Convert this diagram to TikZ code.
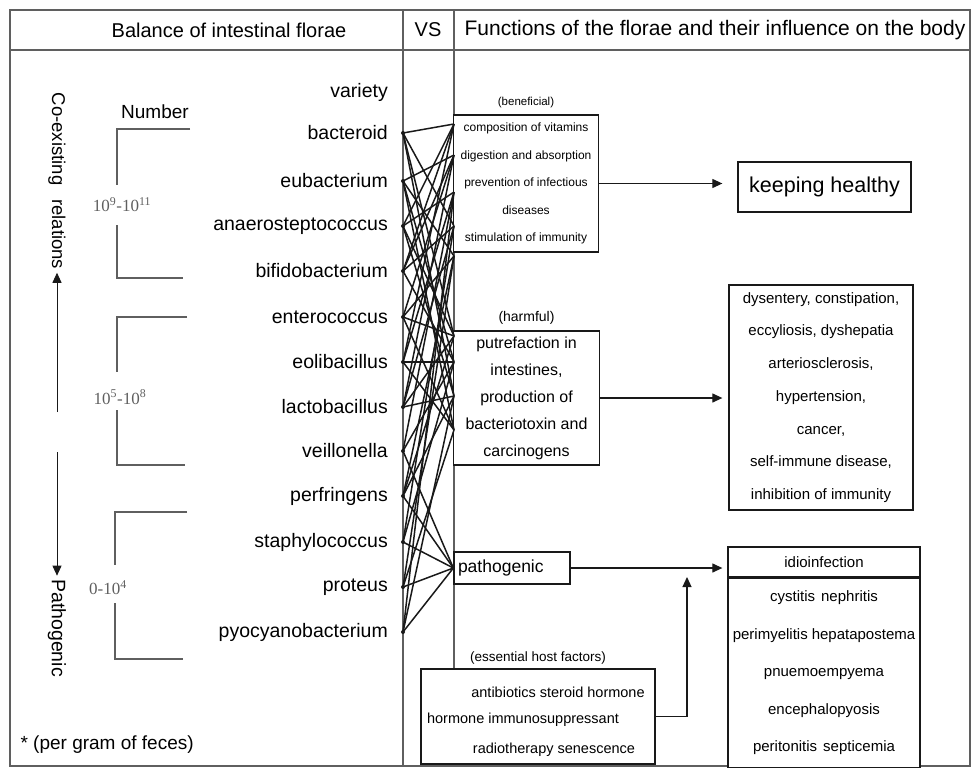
\documentclass[tikz,border=0pt]{standalone}
\usepackage{fontspec}
\setmainfont{Liberation Sans}
\newfontfamily\serifnum{Liberation Serif}
\usepackage{tikz}
\usetikzlibrary{arrows.meta,positioning,calc}
\usepackage{xcolor}
\definecolor{inkgray}{RGB}{25,25,25}
\definecolor{rulegray}{RGB}{95,95,95}

\begin{document}
\begin{tikzpicture}[x=1pt,y=-1pt,
  frameline/.style={draw=rulegray, line width=1.2pt},
  box/.style={draw=inkgray, line width=1.3pt, fill=white, inner sep=0pt},
  link/.style={draw=inkgray, line width=1.5pt},
  flow/.style={draw=inkgray, line width=1.2pt, -{Triangle[length=10pt,width=9pt]}},
  bracket/.style={draw=rulegray, line width=1.2pt},
  bug/.style={anchor=east, inner sep=0pt, font=\fontsize{19.5}{22}\selectfont},
  tag/.style={font=\fontsize{11.5}{13}\selectfont}]
  \useasboundingbox (0,0) rectangle (974,776);

  % frame and header row
  \draw[frameline] (10,10) rectangle (970,766);
  \draw[frameline] (10,50) -- (970,50);
  \draw[frameline] (403,10) -- (403,766);
  \draw[frameline] (454,10) -- (454,766);
  \node[font=\fontsize{20}{22}\selectfont] (hbalance) at (229,30) {Balance of intestinal florae};
  \node[font=\fontsize{20}{22}\selectfont] (hvs) at (428,30) {VS};
  \node[font=\fontsize{21}{22}\selectfont] (hfunc) at (715,30) {Functions of the florae and their influence on the body};

  % left margin: direction of the scale
  \node[rotate=-90, font=\fontsize{18.5}{20}\selectfont] (coexist) at (57,181) {Co-existing\hspace{14pt}relations};
  \node[rotate=-90, font=\fontsize{19.5}{20}\selectfont] (patho) at (57,628) {Pathogenic};
  \coordinate (uptail) at (57,412);
  \coordinate (downtail) at (57,452);
  \draw[flow, line width=0.9pt] (uptail) -- (coexist);
  \draw[flow, line width=0.9pt] (downtail) -- (patho);

  % counts
  \node[font=\fontsize{19}{20}\selectfont] (number) at (155,112) {Number};
  \node[text=rulegray, font=\serifnum\fontsize{17}{18}\selectfont] (nhigh) at (122,205) {10\textsuperscript{9}-10\textsuperscript{11}};
  \node[text=rulegray, font=\serifnum\fontsize{17}{18}\selectfont] (nmid) at (120,397) {10\textsuperscript{5}-10\textsuperscript{8}};
  \node[text=rulegray, font=\serifnum\fontsize{17}{18}\selectfont] (nlow) at (108,588) {0-10\textsuperscript{4}};
  \draw[bracket] (190,129) -| (117,185);
  \draw[bracket] (117,225) |- (183,278);
  \draw[bracket] (187,317) -| (117,372);
  \draw[bracket] (117,410) |- (185,465);
  \draw[bracket] (187,512) -| (115,565);
  \draw[bracket] (115,603) |- (183,659);
  \node[anchor=west, font=\fontsize{19}{20}\selectfont] (perg) at (17,745) {* (per gram of feces)};

  % florae
  \foreach \name/\yy in {variety/92, bacteroid/133, eubacterium/181,
      anaerosteptococcus/226, bifidobacterium/271, enterococcus/317,
      eolibacillus/362, lactobacillus/407, veillonella/451, perfringens/496,
      staphylococcus/542, proteus/587, pyocyanobacterium/632}{
    \node[bug] (\name) at (388,\yy) {\name};
    \coordinate (L-\name) at (403,\yy);
  }

  % function boxes
  \node[box, minimum width=145pt, minimum height=137pt, align=center,
        font=\fontsize{12}{27.5}\selectfont] (benef) at (526,183.5)
        {composition of vitamins\\digestion and absorption\\prevention of infectious\\diseases\\stimulation of immunity};
  \node[tag, above=3pt of benef] (beneftag) {(beneficial)};
  \node[box, minimum width=146pt, minimum height=134pt, align=center,
        font=\fontsize{16}{27}\selectfont] (harm) at (526.5,398)
        {putrefaction in\\intestines,\\production of\\bacteriotoxin and\\carcinogens};
  \node[tag, font=\fontsize{14}{15}\selectfont, above=2pt of harm] (harmtag) {(harmful)};
  \node[box, minimum width=116pt, minimum height=32pt, text width=108pt, align=left,
        font=\fontsize{17.5}{20}\selectfont] (path) at (512,568) {pathogenic};
  \node[box, minimum width=234pt, minimum height=95pt] (ess) at (538,716.5) {};
  \node[tag, font=\fontsize{13.5}{14}\selectfont, above=1pt of ess] (esstag) {(essential host factors)};
  \node[font=\fontsize{14.5}{16}\selectfont] (ess1) at (558,692) {antibiotics steroid hormone};
  \node[font=\fontsize{14.5}{16}\selectfont] (ess2) at (523,720) {hormone immunosuppressant};
  \node[font=\fontsize{14.5}{16}\selectfont] (ess3) at (554,750) {radiotherapy senescence};

  % influence on the body
  \node[box, minimum width=173pt, minimum height=50pt, font=\fontsize{21.5}{22}\selectfont] (healthy) at (824.5,187) {keeping healthy};
  \node[box, minimum width=184pt, minimum height=225pt, align=center,
        font=\fontsize{15}{32.7}\selectfont] (disease) at (821,397.5)
        {dysentery, constipation,\\eccyliosis, dyshepatia\\arteriosclerosis,\\hypertension,\\cancer,\\self-immune disease,\\inhibition of immunity};
  \node[box, minimum width=192pt, minimum height=30pt, font=\fontsize{15}{16}\selectfont] (idio) at (824,562) {idioinfection};
  \node[box, minimum width=192pt, minimum height=189pt, align=center, anchor=north,
        font=\fontsize{15}{37.5}\selectfont] (infect) at (idio.south)
        {cystitis\hspace{6pt}nephritis\\perimyelitis\hspace{4pt}hepatapostema\\pnuemoempyema\\encephalopyosis\\peritonitis\hspace{6pt}septicemia};

  % arrows
  \draw[flow, shorten >=15pt] (benef.east) -- (benef.east -| healthy.west);
  \draw[flow, shorten >=6pt] (harm.east) -- (harm.east -| disease.west);
  \draw[flow, shorten >=5pt] (path.east) -- (path.east -| idio.west);
  \coordinate (feedtip) at (687,577);
  \draw[flow] (ess.east) -| (feedtip);

  % crossing links between florae and functions
  \coordinate (b1) at (454,124);
  \coordinate (b2) at (454,155);
  \coordinate (b3) at (454,192);
  \coordinate (b4) at (454,226);
  \coordinate (b5) at (454,256);
  \coordinate (h1) at (454,336);
  \coordinate (h2) at (454,362);
  \coordinate (h3) at (454,396);
  \coordinate (h4) at (454,430);
  \coordinate (pt) at (path.west);
  \foreach \src/\dst in {bacteroid/b1, bacteroid/b4, bacteroid/h1, bacteroid/h3,
      eubacterium/b2, eubacterium/b5, eubacterium/h2, eubacterium/h4,
      anaerosteptococcus/b1, anaerosteptococcus/b3, anaerosteptococcus/h1, anaerosteptococcus/h3,
      bifidobacterium/b1, bifidobacterium/b2, bifidobacterium/b4, bifidobacterium/h2,
      enterococcus/b2, enterococcus/b5, enterococcus/h1, enterococcus/h4,
      eolibacillus/b1, eolibacillus/b3, eolibacillus/h2, eolibacillus/h4,
      lactobacillus/b2, lactobacillus/b4, lactobacillus/h1, lactobacillus/h3,
      veillonella/b3, veillonella/h2, veillonella/pt,
      perfringens/b5, perfringens/h1, perfringens/h3, perfringens/pt,
      staphylococcus/b4, staphylococcus/h2, staphylococcus/pt,
      proteus/b5, proteus/h4, proteus/pt,
      pyocyanobacterium/b3, pyocyanobacterium/h3, pyocyanobacterium/pt}{
    \draw[link] (L-\src) -- (\dst);
  }
  \foreach \name in {bacteroid, eubacterium, anaerosteptococcus, bifidobacterium,
      enterococcus, eolibacillus, lactobacillus, veillonella, perfringens,
      staphylococcus, proteus, pyocyanobacterium}{
    \fill[inkgray] (L-\name) circle (2pt);
  }
\end{tikzpicture}
\end{document}
